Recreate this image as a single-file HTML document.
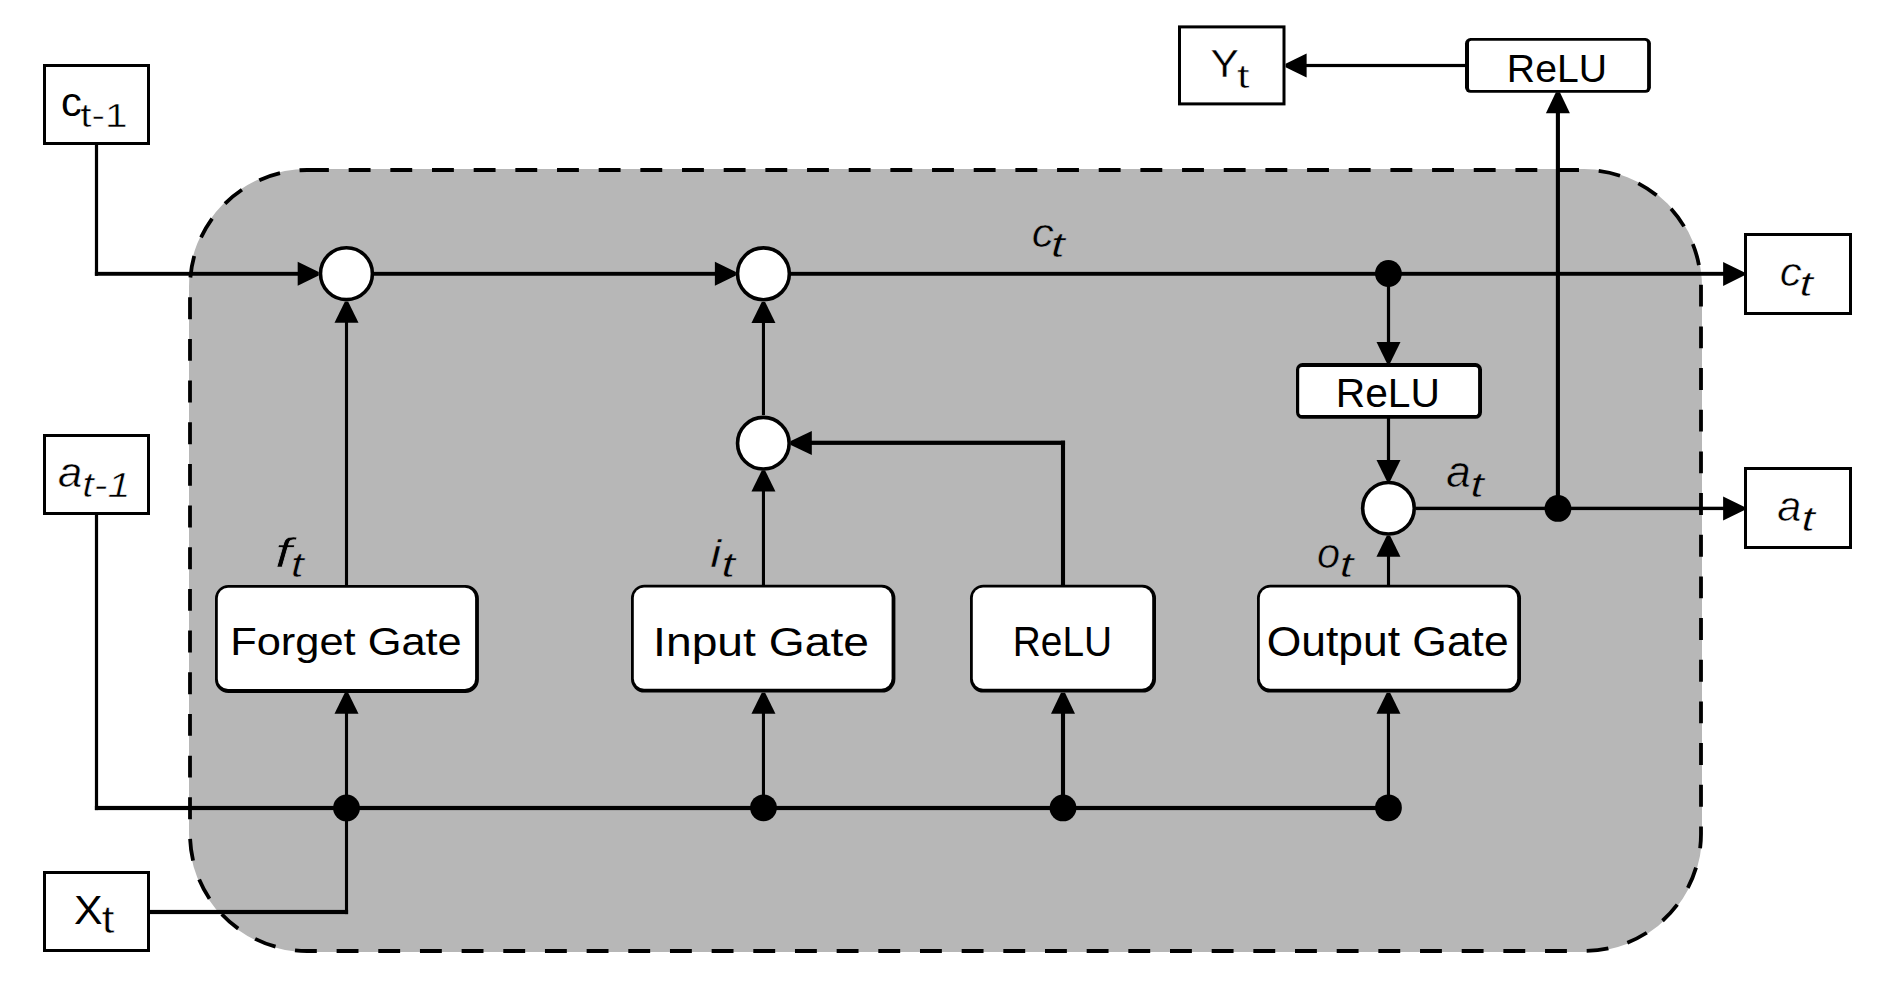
<!DOCTYPE html>
<html><head><meta charset="utf-8"><style>html,body{margin:0;padding:0;background:#fff;width:1882px;height:996px;overflow:hidden}svg{display:block}</style></head><body><svg width="1882" height="996" viewBox="0 0 1882 996"><path d="M307.00,170.00H1584.00A117.00,117.00 0 0 1 1701.00,287.00V834.00A117.00,117.00 0 0 1 1584.00,951.00H307.00A117.00,117.00 0 0 1 190.00,834.00V287.00A117.00,117.00 0 0 1 307.00,170.00Z" fill="#b7b7b7" stroke="#b7b7b7" stroke-width="2"/>
<path d="M307.00,170.00H1584.00A117.00,117.00 0 0 1 1701.00,287.00V834.00A117.00,117.00 0 0 1 1584.00,951.00H307.00A117.00,117.00 0 0 1 190.00,834.00V287.00A117.00,117.00 0 0 1 307.00,170.00Z" fill="none" stroke="#000" stroke-width="3.8" stroke-dasharray="21.87 19.8"/>
<g fill="#000" stroke="none">
<rect x="94.90" y="144.00" width="3.20" height="131.75"/>
<rect x="94.90" y="271.85" width="205.10" height="3.90"/>
<rect x="374.00" y="271.85" width="342.00" height="3.90"/>
<rect x="790.00" y="271.85" width="935.00" height="3.90"/>
<rect x="1386.90" y="273.80" width="3.20" height="71.20"/>
<rect x="1386.90" y="418.00" width="3.20" height="43.00"/>
<rect x="1416.00" y="506.70" width="309.00" height="3.40"/>
<rect x="1555.85" y="94.00" width="4.10" height="414.40"/>
<rect x="1305.00" y="63.90" width="161.00" height="3.20"/>
<rect x="94.90" y="514.00" width="3.20" height="296.10"/>
<rect x="94.90" y="805.90" width="1293.60" height="4.20"/>
<rect x="149.00" y="909.90" width="199.10" height="4.20"/>
<rect x="344.95" y="808.00" width="3.10" height="106.10"/>
<rect x="344.95" y="712.00" width="3.10" height="96.00"/>
<rect x="761.90" y="712.00" width="3.10" height="96.00"/>
<rect x="1386.90" y="712.00" width="3.10" height="96.00"/>
<rect x="1060.95" y="712.00" width="4.10" height="96.00"/>
<rect x="344.95" y="321.00" width="3.10" height="265.00"/>
<rect x="761.90" y="490.00" width="3.10" height="96.00"/>
<rect x="761.90" y="321.00" width="3.10" height="94.00"/>
<rect x="1060.95" y="440.70" width="4.10" height="145.30"/>
<rect x="810.00" y="440.70" width="255.05" height="4.20"/>
<rect x="1386.95" y="555.00" width="3.10" height="31.00"/>
</g>
<g fill="#000" stroke="none">
<polygon points="318.70,272.10 318.70,275.50 297.70,285.80 297.70,261.80"/>
<polygon points="735.90,272.10 735.90,275.50 714.90,285.80 714.90,261.80"/>
<polygon points="1744.10,272.20 1744.10,275.60 1723.10,285.90 1723.10,261.90"/>
<polygon points="1386.80,362.90 1390.20,362.90 1400.50,341.90 1376.50,341.90"/>
<polygon points="1386.80,480.90 1390.20,480.90 1400.50,459.90 1376.50,459.90"/>
<polygon points="1744.10,506.80 1744.10,510.20 1723.10,520.50 1723.10,496.50"/>
<polygon points="1555.90,92.30 1559.90,92.30 1569.90,113.30 1545.90,113.30"/>
<polygon points="1285.60,63.80 1285.60,67.20 1306.60,77.50 1306.60,53.50"/>
<polygon points="344.80,692.80 348.20,692.80 358.50,713.80 334.50,713.80"/>
<polygon points="761.75,692.80 765.15,692.80 775.45,713.80 751.45,713.80"/>
<polygon points="1386.75,692.80 1390.15,692.80 1400.45,713.80 1376.45,713.80"/>
<polygon points="1061.00,692.80 1065.00,692.80 1075.00,713.80 1051.00,713.80"/>
<polygon points="344.80,301.70 348.20,301.70 358.50,322.70 334.50,322.70"/>
<polygon points="761.75,470.60 765.15,470.60 775.45,491.60 751.45,491.60"/>
<polygon points="761.75,301.90 765.15,301.90 775.45,322.90 751.45,322.90"/>
<polygon points="790.80,441.10 790.80,445.10 811.80,455.10 811.80,431.10"/>
<polygon points="1386.75,535.80 1390.15,535.80 1400.45,556.80 1376.45,556.80"/>
</g>
<rect x="44.50" y="65.50" width="104.00" height="78.00" fill="#fff" stroke="#000" stroke-width="3.00"/>
<rect x="44.50" y="435.50" width="104.00" height="78.00" fill="#fff" stroke="#000" stroke-width="3.00"/>
<rect x="44.50" y="872.50" width="104.00" height="78.00" fill="#fff" stroke="#000" stroke-width="3.00"/>
<rect x="1179.50" y="26.90" width="104.50" height="77.00" fill="#fff" stroke="#000" stroke-width="3.00"/>
<rect x="1745.50" y="234.50" width="105.00" height="79.00" fill="#fff" stroke="#000" stroke-width="3.00"/>
<rect x="1745.50" y="468.50" width="105.00" height="79.00" fill="#fff" stroke="#000" stroke-width="3.00"/>
<path d="M228.50,585.00H465.40A13.50,13.50 0 0 1 478.90,598.50V679.40A13.50,13.50 0 0 1 465.40,692.90H228.50A13.50,13.50 0 0 1 215.00,679.40V598.50A13.50,13.50 0 0 1 228.50,585.00Z" fill="#000"/><path d="M228.00,587.80H464.90A10.20,10.20 0 0 1 475.10,598.00V678.90A10.20,10.20 0 0 1 464.90,689.10H228.00A10.20,10.20 0 0 1 217.80,678.90V598.00A10.20,10.20 0 0 1 228.00,587.80Z" fill="#fff"/>
<path d="M644.50,584.80H881.90A13.50,13.50 0 0 1 895.40,598.30V679.10A13.50,13.50 0 0 1 881.90,692.60H644.50A13.50,13.50 0 0 1 631.00,679.10V598.30A13.50,13.50 0 0 1 644.50,584.80Z" fill="#000"/><path d="M644.00,587.60H881.40A10.20,10.20 0 0 1 891.60,597.80V678.60A10.20,10.20 0 0 1 881.40,688.80H644.00A10.20,10.20 0 0 1 633.80,678.60V597.80A10.20,10.20 0 0 1 644.00,587.60Z" fill="#fff"/>
<path d="M983.50,584.80H1142.50A13.50,13.50 0 0 1 1156.00,598.30V679.10A13.50,13.50 0 0 1 1142.50,692.60H983.50A13.50,13.50 0 0 1 970.00,679.10V598.30A13.50,13.50 0 0 1 983.50,584.80Z" fill="#000"/><path d="M983.00,587.60H1142.00A10.20,10.20 0 0 1 1152.20,597.80V678.60A10.20,10.20 0 0 1 1142.00,688.80H983.00A10.20,10.20 0 0 1 972.80,678.60V597.80A10.20,10.20 0 0 1 983.00,587.60Z" fill="#fff"/>
<path d="M1270.50,584.80H1507.50A13.50,13.50 0 0 1 1521.00,598.30V679.10A13.50,13.50 0 0 1 1507.50,692.60H1270.50A13.50,13.50 0 0 1 1257.00,679.10V598.30A13.50,13.50 0 0 1 1270.50,584.80Z" fill="#000"/><path d="M1270.00,587.60H1507.00A10.20,10.20 0 0 1 1517.20,597.80V678.60A10.20,10.20 0 0 1 1507.00,688.80H1270.00A10.20,10.20 0 0 1 1259.80,678.60V597.80A10.20,10.20 0 0 1 1270.00,587.60Z" fill="#fff"/>
<path d="M1302.50,363.10H1475.50A6.50,6.50 0 0 1 1482.00,369.60V412.30A6.50,6.50 0 0 1 1475.50,418.80H1302.50A6.50,6.50 0 0 1 1296.00,412.30V369.60A6.50,6.50 0 0 1 1302.50,363.10Z" fill="#000"/><path d="M1302.03,367.00H1475.27A2.83,2.83 0 0 1 1478.10,369.82V412.28A2.83,2.83 0 0 1 1475.27,415.10H1302.03A2.83,2.83 0 0 1 1299.20,412.28V369.82A2.83,2.83 0 0 1 1302.03,367.00Z" fill="#fff"/>
<path d="M1470.50,38.10H1645.40A5.50,5.50 0 0 1 1650.90,43.60V87.30A5.50,5.50 0 0 1 1645.40,92.80H1470.50A5.50,5.50 0 0 1 1465.00,87.30V43.60A5.50,5.50 0 0 1 1470.50,38.10Z" fill="#000"/><path d="M1471.22,40.70H1644.88A2.22,2.22 0 0 1 1647.10,42.93V87.88A2.22,2.22 0 0 1 1644.88,90.10H1471.22A2.22,2.22 0 0 1 1469.00,87.88V42.93A2.22,2.22 0 0 1 1471.22,40.70Z" fill="#fff"/>
<circle cx="346.45" cy="273.70" r="25.95" fill="#fff" stroke="#000" stroke-width="3.60"/>
<circle cx="763.45" cy="273.80" r="25.90" fill="#fff" stroke="#000" stroke-width="3.60"/>
<circle cx="763.35" cy="443.20" r="25.80" fill="#fff" stroke="#000" stroke-width="3.60"/>
<circle cx="1388.45" cy="508.25" r="25.80" fill="#fff" stroke="#000" stroke-width="3.60"/>
<circle cx="1388.40" cy="273.50" r="13.40" fill="#000"/>
<circle cx="1557.95" cy="508.40" r="13.40" fill="#000"/>
<circle cx="346.50" cy="807.90" r="13.40" fill="#000"/>
<circle cx="763.50" cy="807.80" r="13.40" fill="#000"/>
<circle cx="1063.00" cy="807.90" r="13.40" fill="#000"/>
<circle cx="1388.45" cy="807.80" r="13.40" fill="#000"/>
<g fill="#000">
<text transform="matrix(0.41655 0 0 0.40000 61.082 116.400)" font-family="'Liberation Sans', sans-serif" font-style="normal" font-size="100">c</text>
<text transform="matrix(0.40593 0 0 0.33532 80.277 127.000)" font-family="'Liberation Sans', sans-serif" font-style="normal" font-size="100" stroke="#fff" stroke-width="1.478" stroke-linejoin="round">t-1</text>
<text transform="matrix(0.43445 0 0 0.42274 58.082 486.614)" font-family="'Liberation Sans', sans-serif" font-style="italic" font-size="100" stroke="#fff" stroke-width="1.151" stroke-linejoin="round">a</text>
<text transform="matrix(0.41443 0 0 0.35427 82.192 497.125)" font-family="'Liberation Sans', sans-serif" font-style="italic" font-size="100" stroke="#fff" stroke-width="1.689" stroke-linejoin="round">t-1</text>
<text transform="matrix(0.42785 0 0 0.40888 74.031 924.110)" font-family="'Liberation Sans', sans-serif" font-style="normal" font-size="100">X</text>
<text transform="matrix(0.47006 0 0 0.38270 101.496 933.197)" font-family="'Liberation Sans', sans-serif" font-style="normal" font-size="100" stroke="#fff" stroke-width="1.489" stroke-linejoin="round">t</text>
<text transform="matrix(0.42489 0 0 0.39460 1210.490 76.787)" font-family="'Liberation Sans', sans-serif" font-style="normal" font-size="100" stroke="#fff" stroke-width="0.941" stroke-linejoin="round">Y</text>
<text transform="matrix(0.46614 0 0 0.33311 1236.786 87.799)" font-family="'Liberation Sans', sans-serif" font-style="normal" font-size="100" stroke="#fff" stroke-width="1.716" stroke-linejoin="round">t</text>
<text transform="matrix(0.39171 0 0 0.39460 1506.870 81.599)" font-family="'Liberation Sans', sans-serif" font-style="normal" font-size="100">ReLU</text>
<text transform="matrix(0.43990 0 0 0.41140 1779.658 286.099)" font-family="'Liberation Sans', sans-serif" font-style="italic" font-size="100" stroke="#fff" stroke-width="1.364" stroke-linejoin="round">c</text>
<text transform="matrix(0.49527 0 0 0.35943 1799.246 296.405)" font-family="'Liberation Sans', sans-serif" font-style="italic" font-size="100" stroke="#fff" stroke-width="1.615" stroke-linejoin="round">t</text>
<text transform="matrix(0.43230 0 0 0.42628 1777.131 521.000)" font-family="'Liberation Sans', sans-serif" font-style="italic" font-size="100" stroke="#fff" stroke-width="1.388" stroke-linejoin="round">a</text>
<text transform="matrix(0.49527 0 0 0.35943 1801.246 531.405)" font-family="'Liberation Sans', sans-serif" font-style="italic" font-size="100" stroke="#fff" stroke-width="1.615" stroke-linejoin="round">t</text>
<text transform="matrix(0.44187 0 0 0.40000 1031.680 247.000)" font-family="'Liberation Sans', sans-serif" font-style="italic" font-size="100" stroke="#b7b7b7" stroke-width="1.358" stroke-linejoin="round">c</text>
<text transform="matrix(0.50588 0 0 0.35002 1050.769 257.000)" font-family="'Liberation Sans', sans-serif" font-style="italic" font-size="100" stroke="#b7b7b7" stroke-width="1.581" stroke-linejoin="round">t</text>
<text transform="matrix(0.43951 0 0 0.43795 1446.337 487.000)" font-family="'Liberation Sans', sans-serif" font-style="italic" font-size="100" stroke="#b7b7b7" stroke-width="1.365" stroke-linejoin="round">a</text>
<text transform="matrix(0.49003 0 0 0.35943 1470.169 497.306)" font-family="'Liberation Sans', sans-serif" font-style="italic" font-size="100" stroke="#b7b7b7" stroke-width="1.633" stroke-linejoin="round">t</text>
<text transform="matrix(0.61348 0 0 0.40827 274.849 567.000)" font-family="'Liberation Sans', sans-serif" font-style="italic" font-size="100" stroke="#b7b7b7" stroke-width="1.467" stroke-linejoin="round">f</text>
<text transform="matrix(0.47034 0 0 0.34734 290.862 577.000)" font-family="'Liberation Sans', sans-serif" font-style="italic" font-size="100" stroke="#b7b7b7" stroke-width="1.701" stroke-linejoin="round">t</text>
<text transform="matrix(0.48713 0 0 0.39267 710.286 567.000)" font-family="'Liberation Sans', sans-serif" font-style="italic" font-size="100" stroke="#b7b7b7" stroke-width="1.232" stroke-linejoin="round">i</text>
<text transform="matrix(0.49821 0 0 0.34734 721.215 577.000)" font-family="'Liberation Sans', sans-serif" font-style="italic" font-size="100" stroke="#b7b7b7" stroke-width="1.606" stroke-linejoin="round">t</text>
<text transform="matrix(0.41565 0 0 0.41818 1317.033 568.000)" font-family="'Liberation Sans', sans-serif" font-style="italic" font-size="100" stroke="#b7b7b7" stroke-width="1.444" stroke-linejoin="round">o</text>
<text transform="matrix(0.50060 0 0 0.34734 1339.620 577.000)" font-family="'Liberation Sans', sans-serif" font-style="italic" font-size="100" stroke="#b7b7b7" stroke-width="1.598" stroke-linejoin="round">t</text>
<text transform="matrix(0.40761 0 0 0.39799 1335.722 407.188)" font-family="'Liberation Sans', sans-serif" font-style="normal" font-size="100">ReLU</text>
<text transform="matrix(0.43409 0 0 0.39614 230.177 655.127)" font-family="'Liberation Sans', sans-serif" font-style="normal" font-size="100">Forget Gate</text>
<text transform="matrix(0.46245 0 0 0.39815 653.088 656.037)" font-family="'Liberation Sans', sans-serif" font-style="normal" font-size="100">Input Gate</text>
<text transform="matrix(0.38848 0 0 0.42114 1012.765 656.000)" font-family="'Liberation Sans', sans-serif" font-style="normal" font-size="100">ReLU</text>
<text transform="matrix(0.44451 0 0 0.42890 1266.638 655.536)" font-family="'Liberation Sans', sans-serif" font-style="normal" font-size="100">Output Gate</text>
</g></svg></body></html>
